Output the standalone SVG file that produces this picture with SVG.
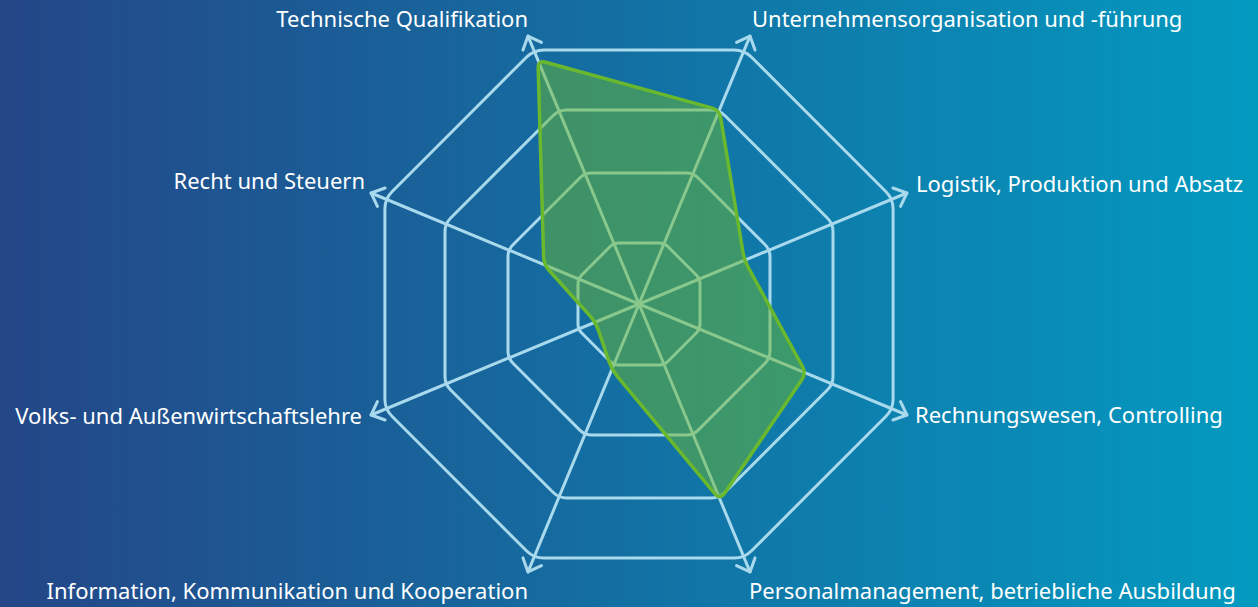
<svg xmlns="http://www.w3.org/2000/svg" width="1258" height="607" viewBox="0 0 1258 607">
  <defs>
    <linearGradient id="bg" x1="0" y1="0" x2="1" y2="0">
      <stop offset="0" stop-color="#244687"/>
      <stop offset="0.5" stop-color="#1370a3"/>
      <stop offset="1" stop-color="#039ac0"/>
    </linearGradient>
    <marker id="arrow" markerUnits="userSpaceOnUse" markerWidth="40" markerHeight="40" viewBox="-20 -20 40 40" refX="0" refY="0" orient="auto" overflow="visible">
      <path d="M -11 -10 L 0 0 L -11 10" fill="none" stroke="#a9d9ec" stroke-width="3" stroke-linecap="round" stroke-linejoin="round"/>
    </marker>
    <style>
      .ring { fill: none; stroke: #a9d9ec; stroke-width: 3; stroke-linejoin: round; }
      .spoke { stroke: #a9d9ec; stroke-width: 3; stroke-linecap: round; marker-end: url(#arrow); }
      .data { fill: #6ab82e; fill-opacity: 0.5; stroke: #6ab82e; stroke-width: 3.5; stroke-linejoin: round; }
      .lbl { font-family: "Noto Sans", "Open Sans", "DejaVu Sans", sans-serif; font-size: 22px; fill: #ffffff; }
    </style>
  </defs>
  <rect x="0" y="0" width="1258" height="607" fill="url(#bg)"/>

  <g id="grid">
    <path class="ring" d="M 543.8 49.9 L 734.2 49.9 Q 744.2 49.9 751.3 57 L 886 191.7 Q 893.1 198.8 893.1 208.8 L 893.1 399.2 Q 893.1 409.2 886 416.3 L 751.3 551 Q 744.2 558.1 734.2 558.1 L 543.8 558.1 Q 533.8 558.1 526.7 551 L 392 416.3 Q 384.9 409.2 384.9 399.2 L 384.9 208.8 Q 384.9 198.8 392 191.7 L 526.7 57 Q 533.8 49.9 543.8 49.9 Z"/>
    <path class="ring" d="M 566.6 110 L 711.4 110 Q 719.4 110 725 115.7 L 827.3 218 Q 833 223.6 833 231.6 L 833 376.4 Q 833 384.4 827.3 390 L 725 492.3 Q 719.4 498 711.4 498 L 566.6 498 Q 558.6 498 553 492.3 L 450.7 390 Q 445 384.4 445 376.4 L 445 231.6 Q 445 223.6 450.7 218 L 553 115.7 Q 558.6 110 566.6 110 Z"/>
    <path class="ring" d="M 591.7 173 L 686.3 173 Q 693.3 173 698.2 178 L 765.1 244.8 Q 770 249.7 770 256.7 L 770 351.3 Q 770 358.3 765.1 363.2 L 698.2 430.1 Q 693.3 435 686.3 435 L 591.7 435 Q 584.7 435 579.8 430.1 L 513 363.2 Q 508 358.3 508 351.3 L 508 256.7 Q 508 249.7 513 244.8 L 579.8 178 Q 584.7 173 591.7 173 Z"/>
    <path class="ring" d="M 618.7 243 L 659.3 243 Q 664.3 243 667.8 246.5 L 696.5 275.2 Q 700 278.7 700 283.7 L 700 324.3 Q 700 329.3 696.5 332.8 L 667.8 361.5 Q 664.3 365 659.3 365 L 618.7 365 Q 613.7 365 610.2 361.5 L 581.5 332.8 Q 578 329.3 578 324.3 L 578 283.7 Q 578 278.7 581.5 275.2 L 610.2 246.5 Q 613.7 243 618.7 243 Z"/>
  </g>

  <g id="connectors">
    <line class="spoke" x1="639" y1="304" x2="528" y2="36.1"/>
    <line class="spoke" x1="639" y1="304" x2="750" y2="36.1"/>
    <line class="spoke" x1="639" y1="304" x2="906.9" y2="193"/>
    <line class="spoke" x1="639" y1="304" x2="906.9" y2="415"/>
    <line class="spoke" x1="639" y1="304" x2="750" y2="571.9"/>
    <line class="spoke" x1="639" y1="304" x2="528" y2="571.9"/>
    <line class="spoke" x1="639" y1="304" x2="371.1" y2="415"/>
    <line class="spoke" x1="639" y1="304" x2="371.1" y2="193"/>
  </g>

  <g id="data-series">
    <path class="data" d="M 545.7 62.2 L 711.7 107.9 Q 719.4 110 720.7 117.9 L 743 252.5 Q 744.3 260.4 748.2 267.4 L 802.4 366.3 Q 806.2 373.3 801.7 379.9 L 724.6 493.3 Q 720.1 499.9 715 493.8 L 616.9 375.8 Q 611.8 369.6 609.2 362 L 598.2 329.6 Q 595.6 322 590.2 316.1 L 549.2 270.5 Q 543.8 264.6 543.6 256.6 L 538.2 68.1 Q 538 60.1 545.7 62.2 Z"/>
  </g>

  <g id="label-technische">
    <text class="lbl" x="528" y="27" text-anchor="end">Technische Qualifikation</text>
  </g>
  <g id="label-unternehmen">
    <text class="lbl" x="752" y="27">Unternehmensorganisation und -führung</text>
  </g>
  <g id="label-logistik">
    <text class="lbl" x="916" y="192">Logistik, Produktion und Absatz</text>
  </g>
  <g id="label-rechnungswesen">
    <text class="lbl" x="915" y="423">Rechnungswesen, Controlling</text>
  </g>
  <g id="label-personal">
    <text class="lbl" x="749" y="599">Personalmanagement, betriebliche Ausbildung</text>
  </g>
  <g id="label-information">
    <text class="lbl" x="528" y="599" text-anchor="end">Information, Kommunikation und Kooperation</text>
  </g>
  <g id="label-volks">
    <text class="lbl" x="362" y="424" text-anchor="end">Volks- und Außenwirtschaftslehre</text>
  </g>
  <g id="label-recht">
    <text class="lbl" x="365" y="189" text-anchor="end">Recht und Steuern</text>
  </g>
</svg>
